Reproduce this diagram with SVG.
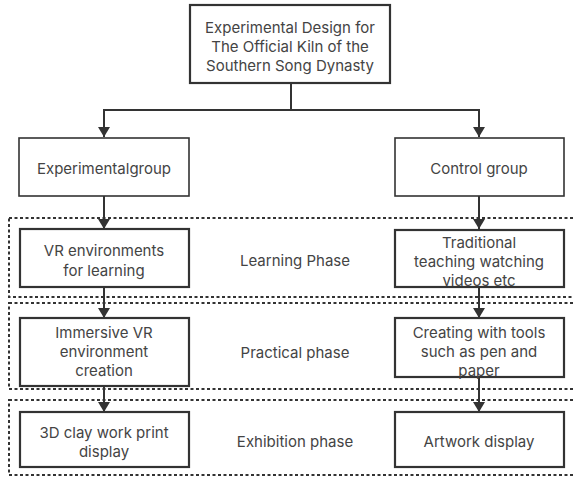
<svg xmlns="http://www.w3.org/2000/svg" width="574" height="478" viewBox="0 0 574 478">
<defs>
<marker id="ah" viewBox="0 0 10 12" refX="10" refY="6" markerWidth="10" markerHeight="12" markerUnits="userSpaceOnUse" orient="auto">
<path d="M0,0 L10,6 L0,12 Z" fill="#333"/>
</marker>
<style>
.box{fill:#fff;stroke:#333;stroke-width:2.2}
.gbox{fill:#fff;stroke:#333;stroke-width:1.6}
.dot{fill:none;stroke:#333;stroke-width:2;stroke-dasharray:3 2.5}
.t{font-family:Inter,"Open Sans","DejaVu Sans",sans-serif;font-size:15px;fill:#444;text-anchor:middle;dominant-baseline:central}
.c{fill:none;stroke:#333;stroke-width:2;marker-end:url(#ah)}
</style>
</defs>
<rect width="574" height="478" fill="#fff"/>
<g id="phases">
<rect class="dot" x="9" y="218" width="580" height="79"/>
<rect class="dot" x="9" y="303" width="580" height="86"/>
<rect class="dot" x="9" y="400" width="580" height="75"/>
<text class="t" x="295" y="260">Learning Phase</text>
<text class="t" x="295" y="352">Practical phase</text>
<text class="t" x="295" y="441">Exhibition phase</text>
</g>
<g id="connectors">
<path class="c" d="M291,83 V110 H104 V137"/>
<path class="c" d="M291,110 H479 V137"/>
<path class="c" d="M104,196 V229"/>
<path class="c" d="M479,196 V229"/>
<path class="c" d="M104,287 V318"/>
<path class="c" d="M479,287 V318"/>
<path class="c" d="M104,386 V412"/>
<path class="c" d="M479,377 V412"/>
</g>
<g id="top">
<rect class="box" x="190" y="5" width="200" height="78"/>
<text class="t" x="290" y="27">Experimental Design for</text>
<text class="t" x="290" y="46">The Official Kiln of the</text>
<text class="t" x="290" y="65">Southern Song Dynasty</text>
</g>
<g id="exp">
<rect class="gbox" x="19" y="138" width="170" height="58"/>
<text class="t" x="104" y="168">Experimentalgroup</text>
</g>
<g id="ctrl">
<rect class="gbox" x="395" y="138" width="169" height="58"/>
<text class="t" x="479" y="168">Control group</text>
</g>
<g id="vr">
<rect class="box" x="20" y="229" width="169" height="58"/>
<text class="t" x="104" y="250">VR environments</text>
<text class="t" x="104" y="270">for learning</text>
</g>
<g id="trad">
<rect class="box" x="395" y="230" width="169" height="57"/>
<text class="t" x="479" y="242">Traditional</text>
<text class="t" x="479" y="261">teaching watching</text>
<text class="t" x="479" y="280">videos etc</text>
</g>
<g id="imm">
<rect class="box" x="20" y="318" width="169" height="68"/>
<text class="t" x="104" y="332">Immersive VR</text>
<text class="t" x="104" y="351">environment</text>
<text class="t" x="104" y="370">creation</text>
</g>
<g id="create">
<rect class="box" x="395" y="318" width="169" height="59"/>
<text class="t" x="479" y="332">Creating with tools</text>
<text class="t" x="479" y="351">such as pen and</text>
<text class="t" x="479" y="370">paper</text>
</g>
<g id="clay">
<rect class="box" x="20" y="412" width="169" height="55"/>
<text class="t" x="104" y="432">3D clay work print</text>
<text class="t" x="104" y="451">display</text>
</g>
<g id="art">
<rect class="box" x="395" y="412" width="169" height="55"/>
<text class="t" x="479" y="441">Artwork display</text>
</g>
</svg>
